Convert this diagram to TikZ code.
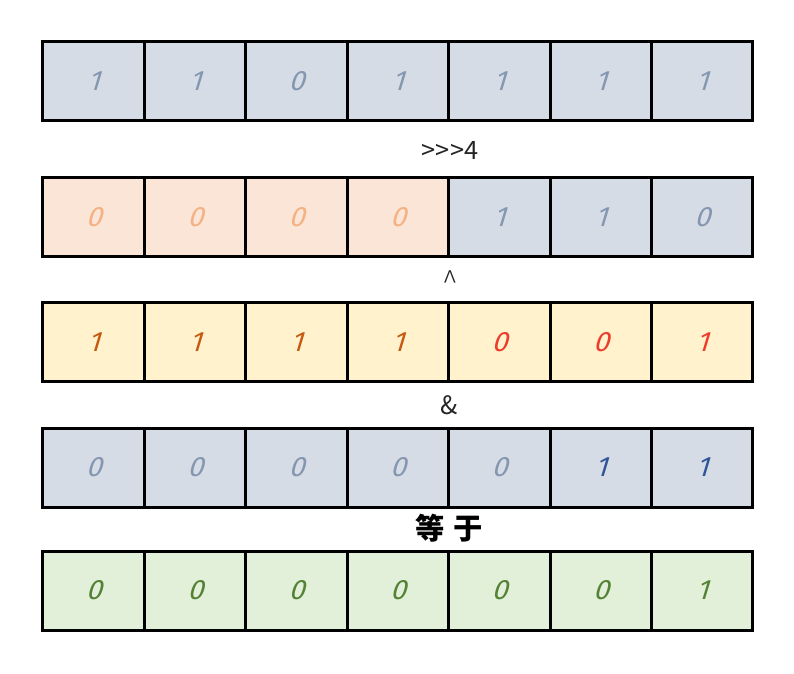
\documentclass[tikz,border=0pt]{standalone}
\usepackage{fontspec}
\usepackage{xcolor}
\setmainfont{Fira Sans}
\newfontfamily\digitfont{Fira Sans}[FakeSlant=0.3]
\newfontfamily\cjk{Noto Sans CJK SC}
\newfontfamily\cjklight{Noto Sans CJK SC Light}
\usepackage{tikz}
\usetikzlibrary{positioning}

\definecolor{graybg}{HTML}{D6DCE5}
\definecolor{graydig}{HTML}{8497B0}
\definecolor{peachbg}{HTML}{FBE5D6}
\definecolor{peachdig}{HTML}{F4B183}
\definecolor{yellowbg}{HTML}{FFF2CC}
\definecolor{rustdig}{HTML}{C55A11}
\definecolor{reddig}{HTML}{EE3B2C}
\definecolor{bluedig}{HTML}{2F5597}
\definecolor{greenbg}{HTML}{E2F0D9}
\definecolor{greendig}{HTML}{548235}
\definecolor{opgray}{HTML}{262626}

\begin{document}
\begin{tikzpicture}[
        x=0.75pt, y=-0.75pt,
        cell/.style={draw, line width=2.25pt, outer sep=0pt, inner sep=0pt,
            minimum width=76.07pt, minimum height=59.25pt,
            font=\digitfont\fontsize{21}{21}\selectfont},
        oplabel/.style={font=\cjk\fontsize{19}{19}\selectfont, text=opgray}
    ]

    \useasboundingbox (0,0) rectangle (794,674);

    %=== Row parameters ===%
    \def\xfirst{93.7}
    \def\cellw{101.43} % px per cell

    %=== Macro to draw one row of bits ===%
    % #1 = row name
    % #2 = y of the row centre
    % #3 = list of fill/digit colour/bit
    \newcommand{\bitrow}[3]{
        \foreach \bg/\fg/\bit [count=\n] in {#3} {
            \pgfmathsetmacro{\x}{\xfirst+(\n-1)*\cellw}
            \node[cell, fill=\bg, text=\fg] (#1\n) at (\x,#2) {\bit};
        }
    }

    %=== Rows ===%
    \bitrow{src}{81.5}{graybg/graydig/1, graybg/graydig/1, graybg/graydig/0,
        graybg/graydig/1, graybg/graydig/1, graybg/graydig/1, graybg/graydig/1}

    \bitrow{shift}{217.5}{peachbg/peachdig/0, peachbg/peachdig/0, peachbg/peachdig/0,
        peachbg/peachdig/0, graybg/graydig/1, graybg/graydig/1, graybg/graydig/0}

    \bitrow{xor}{342}{yellowbg/rustdig/1, yellowbg/rustdig/1, yellowbg/rustdig/1,
        yellowbg/rustdig/1, yellowbg/reddig/0, yellowbg/reddig/0, yellowbg/reddig/1}

    \bitrow{mask}{467.5}{graybg/graydig/0, graybg/graydig/0, graybg/graydig/0,
        graybg/graydig/0, graybg/graydig/0, graybg/bluedig/1, graybg/bluedig/1}

    \bitrow{res}{590.5}{greenbg/greendig/0, greenbg/greendig/0, greenbg/greendig/0,
        greenbg/greendig/0, greenbg/greendig/0, greenbg/greendig/0, greenbg/greendig/1}

    %=== Operators ===%
    \node[oplabel] (opshift) at (450,150) {>{}>{}>4};
    \node[oplabel, font=\cjklight\fontsize{22}{22}\selectfont] (opxor) at (450,282) {\textasciicircum};
    \node[oplabel] (opand) at (449,405) {\&};
    \node[font=\cjk\bfseries\fontsize{22}{22}\selectfont] (opeq) at (449,528) {等\hspace{0.3em}于};

\end{tikzpicture}
\end{document}
